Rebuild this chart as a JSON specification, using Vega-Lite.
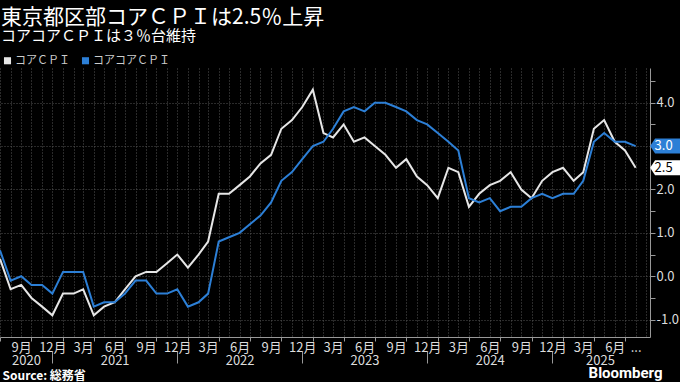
{
  "$schema": "https://vega.github.io/schema/vega-lite/v6.json",
  "width": 650,
  "height": 269,
  "autosize": {"type": "none"},
  "padding": {"left": 0, "top": 68, "right": 30, "bottom": 45},
  "background": "#000000",
  "config": {"view": {"stroke": null}, "font": "Noto Sans CJK JP"},
  "title": {
    "text": "東京都区部コアＣＰＩは2.5％上昇",
    "subtitle": "コアコアＣＰＩは３％台維持",
    "anchor": "start",
    "frame": "group",
    "color": "#ffffff",
    "fontSize": 21,
    "fontWeight": "normal",
    "subtitleColor": "#ffffff",
    "subtitleFontSize": 15,
    "subtitlePadding": 1,
    "offset": 11,
    "dx": 1
  },
  "data": {
    "values": [
      {"date": "2020-07-01", "series": "コアＣＰＩ", "value": 0.4},
      {"date": "2020-08-01", "series": "コアＣＰＩ", "value": -0.3},
      {"date": "2020-09-01", "series": "コアＣＰＩ", "value": -0.2},
      {"date": "2020-10-01", "series": "コアＣＰＩ", "value": -0.5},
      {"date": "2020-11-01", "series": "コアＣＰＩ", "value": -0.7},
      {"date": "2020-12-01", "series": "コアＣＰＩ", "value": -0.9},
      {"date": "2021-01-01", "series": "コアＣＰＩ", "value": -0.4},
      {"date": "2021-02-01", "series": "コアＣＰＩ", "value": -0.4},
      {"date": "2021-03-01", "series": "コアＣＰＩ", "value": -0.3},
      {"date": "2021-04-01", "series": "コアＣＰＩ", "value": -0.9},
      {"date": "2021-05-01", "series": "コアＣＰＩ", "value": -0.7},
      {"date": "2021-06-01", "series": "コアＣＰＩ", "value": -0.6},
      {"date": "2021-07-01", "series": "コアＣＰＩ", "value": -0.3},
      {"date": "2021-08-01", "series": "コアＣＰＩ", "value": 0.0},
      {"date": "2021-09-01", "series": "コアＣＰＩ", "value": 0.1},
      {"date": "2021-10-01", "series": "コアＣＰＩ", "value": 0.1},
      {"date": "2021-11-01", "series": "コアＣＰＩ", "value": 0.3},
      {"date": "2021-12-01", "series": "コアＣＰＩ", "value": 0.5},
      {"date": "2022-01-01", "series": "コアＣＰＩ", "value": 0.2},
      {"date": "2022-02-01", "series": "コアＣＰＩ", "value": 0.5},
      {"date": "2022-03-01", "series": "コアＣＰＩ", "value": 0.8},
      {"date": "2022-04-01", "series": "コアＣＰＩ", "value": 1.9},
      {"date": "2022-05-01", "series": "コアＣＰＩ", "value": 1.9},
      {"date": "2022-06-01", "series": "コアＣＰＩ", "value": 2.1},
      {"date": "2022-07-01", "series": "コアＣＰＩ", "value": 2.3},
      {"date": "2022-08-01", "series": "コアＣＰＩ", "value": 2.6},
      {"date": "2022-09-01", "series": "コアＣＰＩ", "value": 2.8},
      {"date": "2022-10-01", "series": "コアＣＰＩ", "value": 3.4},
      {"date": "2022-11-01", "series": "コアＣＰＩ", "value": 3.6},
      {"date": "2022-12-01", "series": "コアＣＰＩ", "value": 3.9},
      {"date": "2023-01-01", "series": "コアＣＰＩ", "value": 4.3},
      {"date": "2023-02-01", "series": "コアＣＰＩ", "value": 3.3},
      {"date": "2023-03-01", "series": "コアＣＰＩ", "value": 3.2},
      {"date": "2023-04-01", "series": "コアＣＰＩ", "value": 3.5},
      {"date": "2023-05-01", "series": "コアＣＰＩ", "value": 3.1},
      {"date": "2023-06-01", "series": "コアＣＰＩ", "value": 3.2},
      {"date": "2023-07-01", "series": "コアＣＰＩ", "value": 3.0},
      {"date": "2023-08-01", "series": "コアＣＰＩ", "value": 2.8},
      {"date": "2023-09-01", "series": "コアＣＰＩ", "value": 2.5},
      {"date": "2023-10-01", "series": "コアＣＰＩ", "value": 2.7},
      {"date": "2023-11-01", "series": "コアＣＰＩ", "value": 2.3},
      {"date": "2023-12-01", "series": "コアＣＰＩ", "value": 2.1},
      {"date": "2024-01-01", "series": "コアＣＰＩ", "value": 1.8},
      {"date": "2024-02-01", "series": "コアＣＰＩ", "value": 2.5},
      {"date": "2024-03-01", "series": "コアＣＰＩ", "value": 2.4},
      {"date": "2024-04-01", "series": "コアＣＰＩ", "value": 1.6},
      {"date": "2024-05-01", "series": "コアＣＰＩ", "value": 1.9},
      {"date": "2024-06-01", "series": "コアＣＰＩ", "value": 2.1},
      {"date": "2024-07-01", "series": "コアＣＰＩ", "value": 2.2},
      {"date": "2024-08-01", "series": "コアＣＰＩ", "value": 2.4},
      {"date": "2024-09-01", "series": "コアＣＰＩ", "value": 2.0},
      {"date": "2024-10-01", "series": "コアＣＰＩ", "value": 1.8},
      {"date": "2024-11-01", "series": "コアＣＰＩ", "value": 2.2},
      {"date": "2024-12-01", "series": "コアＣＰＩ", "value": 2.4},
      {"date": "2025-01-01", "series": "コアＣＰＩ", "value": 2.5},
      {"date": "2025-02-01", "series": "コアＣＰＩ", "value": 2.2},
      {"date": "2025-03-01", "series": "コアＣＰＩ", "value": 2.4},
      {"date": "2025-04-01", "series": "コアＣＰＩ", "value": 3.4},
      {"date": "2025-05-01", "series": "コアＣＰＩ", "value": 3.6},
      {"date": "2025-06-01", "series": "コアＣＰＩ", "value": 3.1},
      {"date": "2025-07-01", "series": "コアＣＰＩ", "value": 2.9},
      {"date": "2025-08-01", "series": "コアＣＰＩ", "value": 2.5},
      {"date": "2020-07-01", "series": "コアコアＣＰＩ", "value": 0.6},
      {"date": "2020-08-01", "series": "コアコアＣＰＩ", "value": -0.1},
      {"date": "2020-09-01", "series": "コアコアＣＰＩ", "value": 0.0},
      {"date": "2020-10-01", "series": "コアコアＣＰＩ", "value": -0.2},
      {"date": "2020-11-01", "series": "コアコアＣＰＩ", "value": -0.2},
      {"date": "2020-12-01", "series": "コアコアＣＰＩ", "value": -0.4},
      {"date": "2021-01-01", "series": "コアコアＣＰＩ", "value": 0.1},
      {"date": "2021-02-01", "series": "コアコアＣＰＩ", "value": 0.1},
      {"date": "2021-03-01", "series": "コアコアＣＰＩ", "value": 0.1},
      {"date": "2021-04-01", "series": "コアコアＣＰＩ", "value": -0.7},
      {"date": "2021-05-01", "series": "コアコアＣＰＩ", "value": -0.6},
      {"date": "2021-06-01", "series": "コアコアＣＰＩ", "value": -0.6},
      {"date": "2021-07-01", "series": "コアコアＣＰＩ", "value": -0.4},
      {"date": "2021-08-01", "series": "コアコアＣＰＩ", "value": -0.1},
      {"date": "2021-09-01", "series": "コアコアＣＰＩ", "value": -0.1},
      {"date": "2021-10-01", "series": "コアコアＣＰＩ", "value": -0.4},
      {"date": "2021-11-01", "series": "コアコアＣＰＩ", "value": -0.4},
      {"date": "2021-12-01", "series": "コアコアＣＰＩ", "value": -0.3},
      {"date": "2022-01-01", "series": "コアコアＣＰＩ", "value": -0.7},
      {"date": "2022-02-01", "series": "コアコアＣＰＩ", "value": -0.6},
      {"date": "2022-03-01", "series": "コアコアＣＰＩ", "value": -0.4},
      {"date": "2022-04-01", "series": "コアコアＣＰＩ", "value": 0.8},
      {"date": "2022-05-01", "series": "コアコアＣＰＩ", "value": 0.9},
      {"date": "2022-06-01", "series": "コアコアＣＰＩ", "value": 1.0},
      {"date": "2022-07-01", "series": "コアコアＣＰＩ", "value": 1.2},
      {"date": "2022-08-01", "series": "コアコアＣＰＩ", "value": 1.4},
      {"date": "2022-09-01", "series": "コアコアＣＰＩ", "value": 1.7},
      {"date": "2022-10-01", "series": "コアコアＣＰＩ", "value": 2.2},
      {"date": "2022-11-01", "series": "コアコアＣＰＩ", "value": 2.4},
      {"date": "2022-12-01", "series": "コアコアＣＰＩ", "value": 2.7},
      {"date": "2023-01-01", "series": "コアコアＣＰＩ", "value": 3.0},
      {"date": "2023-02-01", "series": "コアコアＣＰＩ", "value": 3.1},
      {"date": "2023-03-01", "series": "コアコアＣＰＩ", "value": 3.4},
      {"date": "2023-04-01", "series": "コアコアＣＰＩ", "value": 3.8},
      {"date": "2023-05-01", "series": "コアコアＣＰＩ", "value": 3.9},
      {"date": "2023-06-01", "series": "コアコアＣＰＩ", "value": 3.8},
      {"date": "2023-07-01", "series": "コアコアＣＰＩ", "value": 4.0},
      {"date": "2023-08-01", "series": "コアコアＣＰＩ", "value": 4.0},
      {"date": "2023-09-01", "series": "コアコアＣＰＩ", "value": 3.9},
      {"date": "2023-10-01", "series": "コアコアＣＰＩ", "value": 3.8},
      {"date": "2023-11-01", "series": "コアコアＣＰＩ", "value": 3.6},
      {"date": "2023-12-01", "series": "コアコアＣＰＩ", "value": 3.5},
      {"date": "2024-01-01", "series": "コアコアＣＰＩ", "value": 3.3},
      {"date": "2024-02-01", "series": "コアコアＣＰＩ", "value": 3.1},
      {"date": "2024-03-01", "series": "コアコアＣＰＩ", "value": 2.9},
      {"date": "2024-04-01", "series": "コアコアＣＰＩ", "value": 1.8},
      {"date": "2024-05-01", "series": "コアコアＣＰＩ", "value": 1.7},
      {"date": "2024-06-01", "series": "コアコアＣＰＩ", "value": 1.8},
      {"date": "2024-07-01", "series": "コアコアＣＰＩ", "value": 1.5},
      {"date": "2024-08-01", "series": "コアコアＣＰＩ", "value": 1.6},
      {"date": "2024-09-01", "series": "コアコアＣＰＩ", "value": 1.6},
      {"date": "2024-10-01", "series": "コアコアＣＰＩ", "value": 1.8},
      {"date": "2024-11-01", "series": "コアコアＣＰＩ", "value": 1.9},
      {"date": "2024-12-01", "series": "コアコアＣＰＩ", "value": 1.8},
      {"date": "2025-01-01", "series": "コアコアＣＰＩ", "value": 1.9},
      {"date": "2025-02-01", "series": "コアコアＣＰＩ", "value": 1.9},
      {"date": "2025-03-01", "series": "コアコアＣＰＩ", "value": 2.2},
      {"date": "2025-04-01", "series": "コアコアＣＰＩ", "value": 3.1},
      {"date": "2025-05-01", "series": "コアコアＣＰＩ", "value": 3.3},
      {"date": "2025-06-01", "series": "コアコアＣＰＩ", "value": 3.1},
      {"date": "2025-07-01", "series": "コアコアＣＰＩ", "value": 3.1},
      {"date": "2025-08-01", "series": "コアコアＣＰＩ", "value": 3.0}
    ]
  },
  "layer": [
    {
      "encoding": {
        "x": {
          "field": "date",
          "type": "temporal",
          "scale": {
            "type": "utc",
            "domain": [
              {"year": 2020, "month": 7, "date": 1, "utc": true},
              {"year": 2025, "month": 9, "date": 12, "utc": true}
            ]
          },
          "axis": {
            "orient": "bottom",
            "tickCount": {"interval": "month", "step": 1},
            "labelExpr": "(utcyear(datum.value) == 2025 && utcmonth(datum.value) == 7) ? '...' : ((utcyear(datum.value) == 2025 && utcmonth(datum.value) > 7) ? '' : (utcmonth(datum.value) % 3 == 2 ? (utcmonth(datum.value) + 1) + '月' : ''))",
            "labelOverlap": false,
            "labelFlush": false,
            "labelBound": false,
            "labelColor": "#dddddd",
            "labelFontSize": 13,
            "labelPadding": 0,
            "tickColor": "#999999",
            "tickSize": 4,
            "tickOpacity": {"condition": {"test": "utcmonth(datum.value) % 3 == 0", "value": 1}, "value": 0},
            "domainColor": "#999999",
            "grid": true,
            "gridColor": "#555555",
            "gridDash": [1, 2],
            "title": null
          }
        },
        "y": {
          "field": "value",
          "type": "quantitative",
          "scale": {"domain": [-1.4, 4.8], "nice": false, "zero": false},
          "axis": {
            "orient": "right",
            "values": [-1, -0.5, 0, 0.5, 1, 1.5, 2, 2.5, 3, 3.5, 4, 4.5],
            "format": ".1f",
            "labelExpr": "datum.value % 1 == 0 ? replace(datum.label, '−', '-') : ''",
            "grid": true,
            "gridColor": "#555555",
            "gridDash": [1, 2],
            "gridOpacity": {"condition": {"test": "datum.value % 1 == 0", "value": 1}, "value": 0},
            "domainColor": "#999999",
            "tickColor": "#999999",
            "tickSize": 5,
            "labelColor": "#dddddd",
            "labelFontSize": 13,
            "labelPadding": 1,
            "title": "Bloomberg",
            "titleAngle": 0,
            "titleX": 12,
            "titleY": 309,
            "titleAlign": "right",
            "titleBaseline": "alphabetic",
            "titleFont": "Roboto",
            "titleFontSize": 15,
            "titleFontWeight": "bold",
            "titleColor": "#ffffff"
          }
        }
      },
      "layer": [
        {
          "mark": {"type": "line", "strokeWidth": 2},
          "encoding": {
            "color": {
              "field": "series",
              "type": "nominal",
              "sort": ["コアＣＰＩ", "コアコアＣＰＩ"],
              "scale": {"domain": ["コアＣＰＩ", "コアコアＣＰＩ"], "range": ["#e6e6e6", "#2c7fd6"]},
              "legend": {
                "orient": "none",
                "legendX": 2,
                "legendY": -13,
                "direction": "horizontal",
                "symbolType": "square",
                "symbolSize": 50,
                "symbolStrokeWidth": 0,
                "labelColor": "#cccccc",
                "labelFontSize": 11,
                "labelOffset": 2,
                "columnPadding": 10,
                "title": null,
                "encode": {"symbols": {"update": {"fill": {"scale": "color", "field": "value"}, "fillOpacity": {"value": 1}}}}
              }
            }
          }
        },
        {
          "transform": [{"filter": "datum.series == 'コアコアＣＰＩ' && utcyear(datum.date) == 2025 && utcmonth(datum.date) == 7"}],
          "mark": {"type": "point", "shape": "M-1,0L-0.67,-0.5L1,-0.5L1,0.5L-0.67,0.5Z", "size": 900, "filled": true, "color": "#2c7fd6", "opacity": 1, "strokeWidth": 0, "xOffset": 29.5}
        },
        {
          "transform": [{"filter": "datum.series == 'コアＣＰＩ' && utcyear(datum.date) == 2025 && utcmonth(datum.date) == 7"}],
          "mark": {"type": "point", "shape": "M-1,0L-0.67,-0.5L1,-0.5L1,0.5L-0.67,0.5Z", "size": 900, "filled": true, "color": "#ffffff", "opacity": 1, "strokeWidth": 0, "xOffset": 29.5}
        },
        {
          "transform": [{"filter": "datum.series == 'コアコアＣＰＩ' && utcyear(datum.date) == 2025 && utcmonth(datum.date) == 7"}],
          "mark": {"type": "text", "align": "center", "baseline": "middle", "dx": 28, "fontSize": 13, "color": "#ffffff"},
          "encoding": {"text": {"field": "value", "type": "quantitative", "format": ".1f"}}
        },
        {
          "transform": [{"filter": "datum.series == 'コアＣＰＩ' && utcyear(datum.date) == 2025 && utcmonth(datum.date) == 7"}],
          "mark": {"type": "text", "align": "center", "baseline": "middle", "dx": 28, "fontSize": 13, "color": "#000000"},
          "encoding": {"text": {"field": "value", "type": "quantitative", "format": ".1f"}}
        }
      ]
    },
    {
      "mark": {"type": "point", "opacity": 0},
      "encoding": {
        "x": {
          "field": "date",
          "type": "temporal",
          "scale": {
            "type": "utc",
            "domain": [
              {"year": 2020, "month": 7, "date": 1, "utc": true},
              {"year": 2025, "month": 9, "date": 12, "utc": true}
            ]
          },
          "axis": {
            "orient": "bottom",
            "offset": 14,
            "values": [
              {"year": 2020, "month": 9, "date": 15, "utc": true},
              {"year": 2020, "month": 12, "date": 1, "utc": true},
              {"year": 2021, "month": 6, "date": 1, "utc": true},
              {"year": 2021, "month": 12, "date": 1, "utc": true},
              {"year": 2022, "month": 6, "date": 1, "utc": true},
              {"year": 2022, "month": 12, "date": 1, "utc": true},
              {"year": 2023, "month": 6, "date": 1, "utc": true},
              {"year": 2023, "month": 12, "date": 1, "utc": true},
              {"year": 2024, "month": 6, "date": 1, "utc": true},
              {"year": 2024, "month": 12, "date": 1, "utc": true},
              {"year": 2025, "month": 4, "date": 19, "utc": true}
            ],
            "domain": false,
            "grid": false,
            "tickSize": 12,
            "tickColor": "#999999",
            "tickOpacity": {"condition": {"test": "utcmonth(datum.value) == 11", "value": 1}, "value": 0},
            "labelExpr": "utcmonth(datum.value) == 11 ? '' : utcFormat(datum.value, '%Y')",
            "labelPadding": -9,
            "labelColor": "#dddddd",
            "labelFontSize": 13,
            "labelOverlap": false,
            "labelFlush": false,
            "labelBound": false,
            "title": "Source: 総務省",
            "titleX": 2,
            "titleY": 28,
            "titleAnchor": "start",
            "titleAlign": "left",
            "titleBaseline": "alphabetic",
            "titleColor": "#ffffff",
            "titleFontSize": 12,
            "titleFontWeight": "bold"
          }
        }
      }
    }
  ],
  "resolve": {"scale": {"x": "independent"}, "axis": {"x": "independent"}}
}
